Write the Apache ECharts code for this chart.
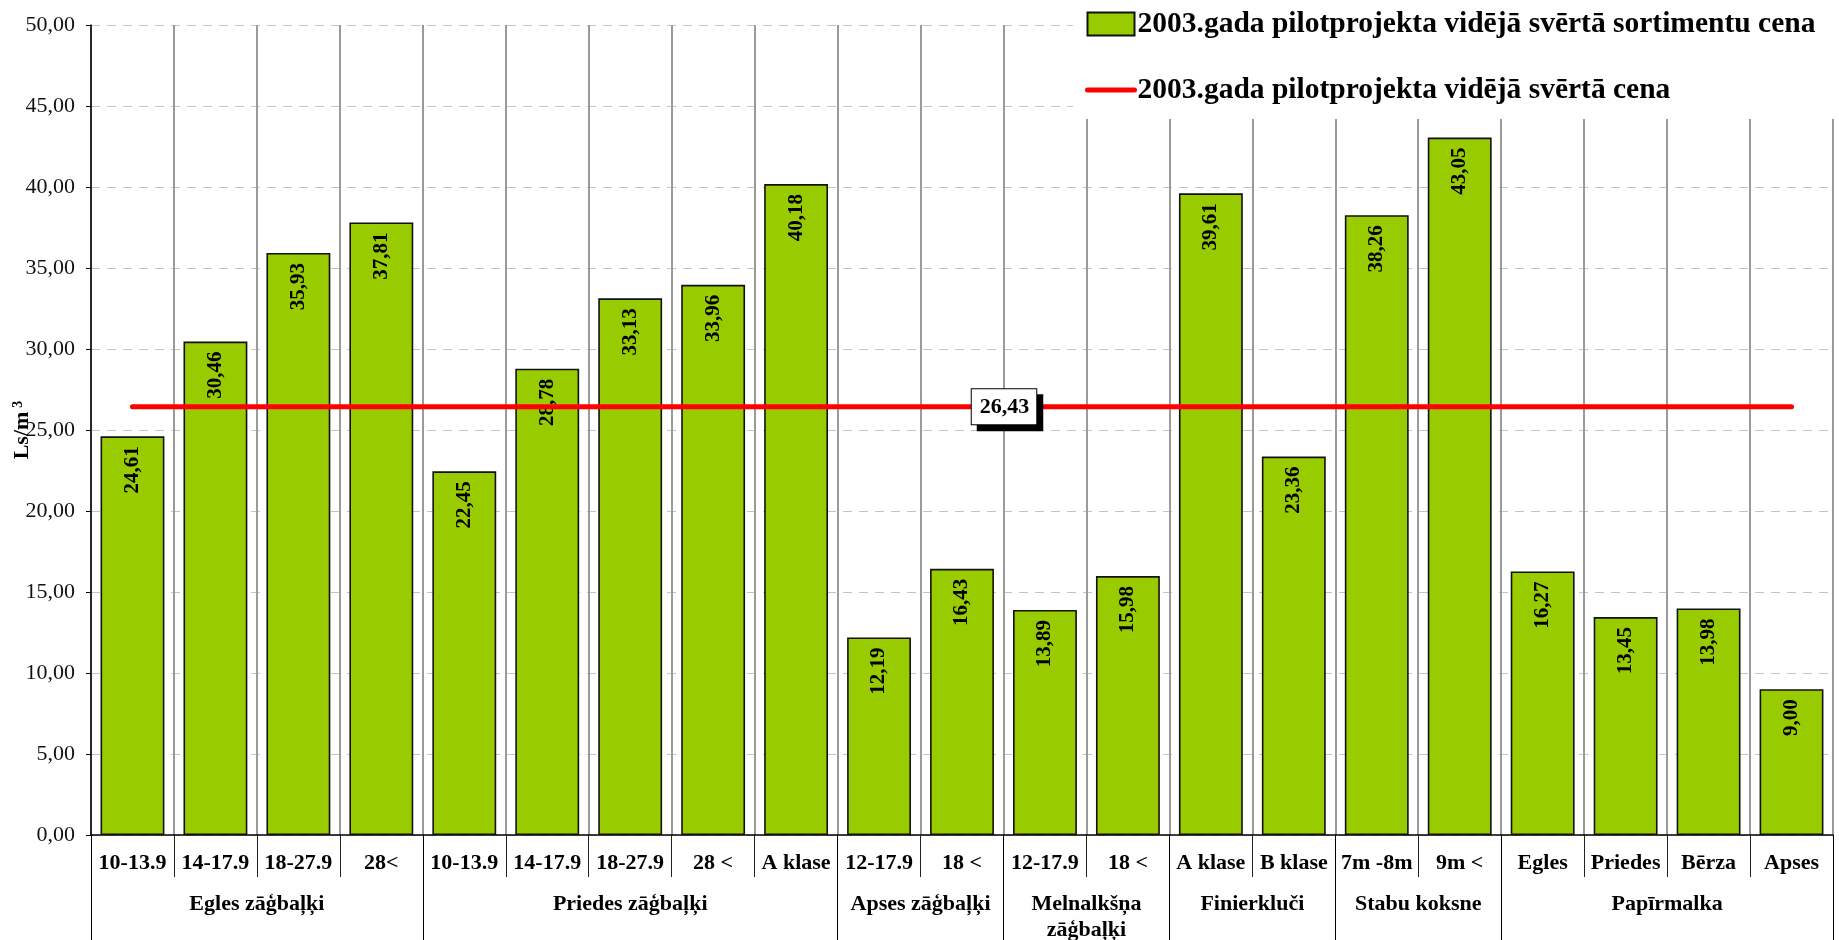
<!DOCTYPE html>
<html>
<head>
<meta charset="utf-8">
<script src="https://cdn.jsdelivr.net/npm/echarts@6/dist/echarts.min.js"></script>
<style>
html,body{margin:0;padding:0;background:#fff;}
#chart{width:1839px;height:940px;}
</style>
</head>
<body>
<div id="chart"></div>
<script>
const categories = ['10-13.9','14-17.9','18-27.9','28<','10-13.9','14-17.9','18-27.9','28 <','A klase','12-17.9','18 <','12-17.9','18 <','A klase','B klase','7m -8m','9m <','Egles','Priedes','Bērza','Apses'];
const prices = [24.61,30.46,35.93,37.81,22.45,28.78,33.13,33.96,40.18,12.19,16.43,13.89,15.98,39.61,23.36,38.26,43.05,16.27,13.45,13.98,9.00];
const groups = ['Egles zāģbaļķi','Priedes zāģbaļķi','Apses zāģbaļķi','Melnalkšņa\nzāģbaļķi','Finierkluči','Stabu koksne','Papīrmalka'];
const groupSizes = [4,5,2,2,2,2,4];
const avgPrice = 26.43;
const avgLabelIndex = 10;
const yMin = 0, yMax = 50, yStep = 5;
const barName = '2003.gada pilotprojekta vidējā svērtā sortimentu cena';
const lineName = '2003.gada pilotprojekta vidējā svērtā cena';

const FONT = 'Liberation Serif';
const fmt = v => Number(v).toFixed(2).replace('.', ',');

// group axis built on half-category slots (2N+1 points, boundaryGap false)
const groupAxisData = new Array(categories.length * 2 + 1).fill('');
const groupBoundaries = new Set();
let start = 0;
groups.forEach((g, i) => {
  groupBoundaries.add(2 * start);
  groupAxisData[2 * start + groupSizes[i]] = g;
  start += groupSizes[i];
});
groupBoundaries.add(2 * start);

const lineData = categories.map(() => avgPrice);

const chart = echarts.init(document.getElementById('chart'));
chart.setOption({
  animation: false,
  backgroundColor: '#fff',
  grid: { left: 91, right: 6, top: 25, bottom: 105, containLabel: false, outerBoundsMode: 'none' },
  legend: {
    orient: 'vertical',
    left: 1073, top: 0,
    padding: [9, 30, 14, 12],
    backgroundColor: '#fff',
    itemWidth: 47, itemHeight: 23, itemGap: 36,
    z: 10,
    textStyle: { fontFamily: FONT, fontWeight: 'bold', fontSize: 29.5, color: '#000', padding: [0, 0, 0, -2] },
    data: [
      { name: barName, icon: 'rect' },
      { name: lineName, itemStyle: { color: 'rgba(0,0,0,0)', borderWidth: 0 }, lineStyle: { color: '#ff0000', width: 5 } }
    ]
  },
  xAxis: [{
    type: 'category',
    data: categories,
    boundaryGap: true,
    axisLine: { show: true, lineStyle: { color: '#000', width: 1.5 } },
    axisTick: { show: true, interval: 0, length: 42, lineStyle: { color: '#222', width: 1 } },
    axisLabel: { interval: 0, margin: 17, fontFamily: FONT, fontWeight: 'bold', fontSize: 22, color: '#000' },
    splitLine: { show: true, interval: 0, lineStyle: { color: '#9a9a9a', width: 2 } }
  }, {
    type: 'category',
    data: groupAxisData,
    boundaryGap: false,
    position: 'bottom',
    axisLine: { show: false },
    axisTick: { show: true, interval: i => groupBoundaries.has(i), length: 106, lineStyle: { color: '#000', width: 1 } },
    axisLabel: { interval: (i, v) => v !== '', margin: 56, fontFamily: FONT, fontWeight: 'bold', fontSize: 22, color: '#000', lineHeight: 26 },
    splitLine: { show: false }
  }],
  yAxis: {
    type: 'value',
    min: yMin, max: yMax, interval: yStep,
    name: 'Ls/m{sup|3}',
    nameLocation: 'middle',
    nameGap: 58,
    nameRotate: 90,
    nameMoveOverlap: false,
    nameTextStyle: {
      fontFamily: FONT, fontWeight: 'bold', fontSize: 22, color: '#000',
      rich: { sup: { fontFamily: FONT, fontWeight: 'bold', fontSize: 14, color: '#000', verticalAlign: 'top', padding: [0, 0, 8, 4] } }
    },
    axisLine: { show: true, lineStyle: { color: '#000', width: 1.5 } },
    axisTick: { show: true, length: 5, lineStyle: { color: '#000' } },
    axisLabel: { margin: 16, formatter: fmt, fontFamily: FONT, fontSize: 22, color: '#111' },
    splitLine: { show: true, lineStyle: { color: '#c4c4c4', width: 1, type: [9, 7] } }
  },
  series: [{
    name: barName,
    type: 'bar',
    data: prices,
    xAxisIndex: 0,
    barCategoryGap: '23%',
    itemStyle: { color: '#99cc00', borderColor: '#111', borderWidth: 1.6 },
    label: {
      show: true,
      position: 'insideTop',
      distance: 10,
      rotate: 90,
      align: 'right',
      verticalAlign: 'middle',
      formatter: p => fmt(p.value),
      fontFamily: FONT, fontWeight: 'bold', fontSize: 21, color: '#000'
    },
    z: 2
  }, {
    name: lineName,
    type: 'line',
    data: lineData,
    xAxisIndex: 0,
    symbol: 'none',
    lineStyle: { color: '#ff0000', width: 5, cap: 'round' },
    itemStyle: { color: '#ff0000' },
    z: 3,
    markPoint: {
      silent: true,
      symbol: 'circle',
      symbolSize: 1,
      itemStyle: { color: 'rgba(0,0,0,0)' },
      data: [{ coord: [avgLabelIndex, avgPrice], value: avgPrice }],
      label: {
        show: true,
        formatter: p => fmt(p.value),
        position: 'inside',
        offset: [42, 0],
        fontFamily: FONT, fontWeight: 'bold', fontSize: 22, color: '#000',
        backgroundColor: '#fff', borderColor: '#000', borderWidth: 1,
        padding: [7, 7, 6, 8],
        shadowColor: '#000', shadowOffsetX: 6, shadowOffsetY: 6, shadowBlur: 0.01
      }
    }
  }]
});
</script>
</body>
</html>
